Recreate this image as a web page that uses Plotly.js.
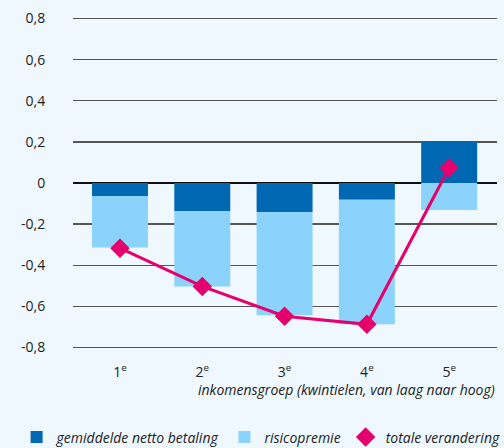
<!DOCTYPE html>
<html>
<head>
<meta charset="utf-8">
<script src="https://cdn.plot.ly/plotly-3.0.1.min.js"></script>
<style>
html,body{margin:0;padding:0;background:#EFF8FF;}
#chart{width:504px;height:448px;}
</style>
</head>
<body>
<div id="chart"></div>
<script>
const categories = ["1<sup>e</sup>", "2<sup>e</sup>", "3<sup>e</sup>", "4<sup>e</sup>", "5<sup>e</sup>"];
const nettoBetaling = [-0.063, -0.136, -0.141, -0.082, 0.204];
const risicopremie = [-0.251, -0.367, -0.502, -0.605, -0.131];
const totaleVerandering = [-0.317, -0.503, -0.648, -0.687, 0.074];
const yTickVals = [-0.8, -0.6, -0.4, -0.2, 0, 0.2, 0.4, 0.6, 0.8];
const yTickText = yTickVals.map(v => v === 0 ? "0" : v.toFixed(1).replace(".", ","));
const seriesNames = ["gemiddelde netto betaling", "risicopremie", "totale verandering"];
const xTitle = "inkomensgroep (kwintielen, van laag naar hoog)";

const font = "Open Sans, Noto Sans, sans-serif";
const pink = "#E5006D";
const traces = [
  {type: "bar", x: categories, y: nettoBetaling, name: seriesNames[0],
   marker: {color: "#0068B2"}},
  {type: "bar", x: categories, y: risicopremie, name: seriesNames[1],
   marker: {color: "#8CD3FB"}},
  {type: "scatter", mode: "lines+markers", x: categories, y: totaleVerandering, name: seriesNames[2],
   showlegend: false,
   line: {color: pink, width: 3},
   marker: {symbol: "diamond", size: 15, color: pink}},
  // legend entry only (diamond without line)
  {type: "scatter", mode: "markers", x: [null], y: [null], name: seriesNames[2],
   marker: {symbol: "diamond", size: 15, color: pink}, hoverinfo: "skip"}
];

const layout = {
  width: 504, height: 448,
  paper_bgcolor: "#EFF8FF", plot_bgcolor: "#EFF8FF",
  margin: {l: 73, r: 7, t: 15.5, b: 97.5, autoexpand: false},
  barmode: "relative", bargap: 0.32,
  font: {family: font, size: 14, color: "#222"},
  showlegend: true,
  legend: {orientation: "h", xref: "paper", yref: "paper",
           x: -0.133, xanchor: "left", y: -0.262, yanchor: "middle",
           font: {family: font, size: 14, color: "#222", style: "italic"},
           itemwidth: 30, tracegroupgap: 0, bgcolor: "rgba(0,0,0,0)",
           traceorder: "normal"},
  xaxis: {type: "category", range: [-0.571, 4.581], showgrid: false, zeroline: false,
          showline: false, ticks: "outside", ticklen: 9, tickcolor: "rgba(0,0,0,0)",
          tickfont: {family: font, size: 14, color: "#222"}, fixedrange: true},
  yaxis: {range: [-0.812, 0.812], tickvals: yTickVals, ticktext: yTickText,
          showgrid: true, gridcolor: "#555", gridwidth: 1.3,
          zeroline: true, zerolinecolor: "#111", zerolinewidth: 2.2,
          showline: false, ticks: "outside", ticklen: 24, tickcolor: "rgba(0,0,0,0)",
          tickfont: {family: font, size: 14, color: "#222"}, fixedrange: true},
  annotations: [{text: xTitle, xref: "paper", yref: "paper", x: 1, xanchor: "right",
                 y: -0.118, yanchor: "middle", showarrow: false,
                 font: {family: font, size: 14, color: "#222", style: "italic"}}]
};

Plotly.newPlot("chart", traces, layout, {displayModeBar: false, staticPlot: true});
</script>
</body>
</html>
